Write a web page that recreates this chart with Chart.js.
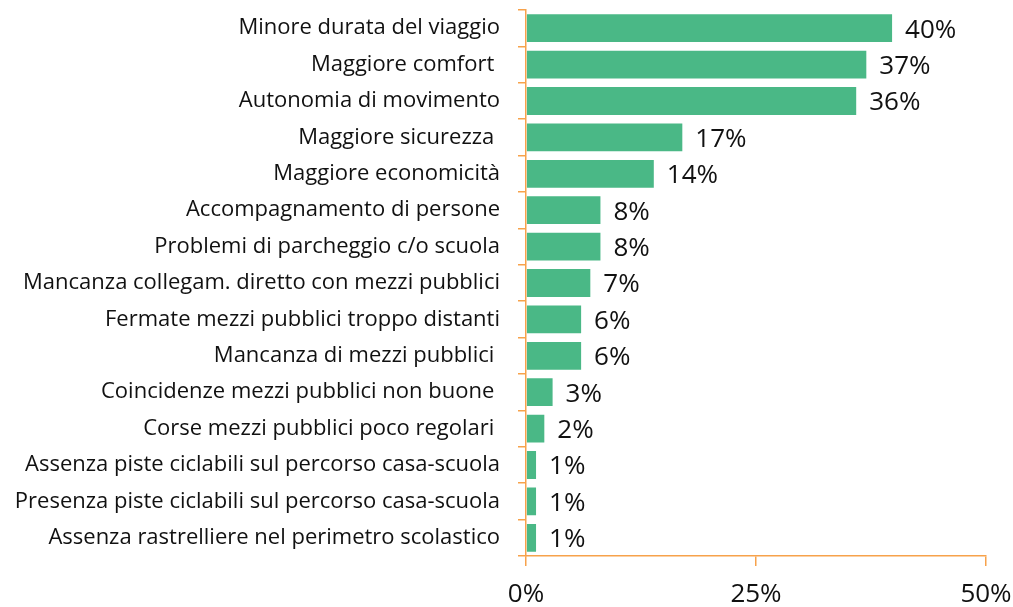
<!DOCTYPE html>
<html>
<head>
<meta charset="utf-8">
<script src="https://cdn.jsdelivr.net/npm/chart.js@4/dist/chart.umd.min.js"></script>
<style>
  html, body { margin: 0; padding: 0; background: #fff; }
  #wrap { width: 1013px; height: 607px; position: relative; }
</style>
</head>
<body>
<div id="wrap"><canvas id="chart"></canvas></div>
<script>
// categories (top to bottom) and their shares in %
const categories = [
  "Minore durata del viaggio",
  "Maggiore comfort ",
  "Autonomia di movimento",
  "Maggiore sicurezza ",
  "Maggiore economicità",
  "Accompagnamento di persone",
  "Problemi di parcheggio c/o scuola",
  "Mancanza collegam. diretto con mezzi pubblici",
  "Fermate mezzi pubblici troppo distanti",
  "Mancanza di mezzi pubblici ",
  "Coincidenze mezzi pubblici non buone ",
  "Corse mezzi pubblici poco regolari ",
  "Assenza piste ciclabili sul percorso casa-scuola",
  "Presenza piste ciclabili sul percorso casa-scuola",
  "Assenza rastrelliere nel perimetro scolastico"
];
const shares = [39.9, 37.1, 36.0, 17.1, 14.0, 8.2, 8.2, 7.1, 6.1, 6.1, 3.0, 2.1, 1.2, 1.2, 1.2];
const xTicks = [0, 25, 50];

const GREEN = "#4ab886";
const ORANGE = "#f7a24b";
const FONT = "'Open Sans', sans-serif";

// draws the value label to the right of each bar
const valueLabels = {
  id: "valueLabels",
  afterDatasetsDraw(chart) {
    const ctx = chart.ctx;
    const meta = chart.getDatasetMeta(0);
    ctx.save();
    ctx.font = "26px " + FONT;
    ctx.fillStyle = "#111";
    ctx.textAlign = "left";
    ctx.textBaseline = "middle";
    meta.data.forEach((bar, i) => {
      ctx.fillText(Math.round(shares[i]) + "%", bar.x + 12, bar.y + 2);
    });
    ctx.restore();
  }
};

new Chart(document.getElementById("chart"), {
  type: "bar",
  data: {
    labels: categories,
    datasets: [{
      data: shares,
      backgroundColor: GREEN,
      borderColor: "rgba(255,255,255,0.6)",
      borderWidth: 1,
      categoryPercentage: 1,
      barPercentage: 0.82
    }]
  },
  options: {
    indexAxis: "y",
    responsive: true,
    maintainAspectRatio: false,
    animation: false,
    layout: { padding: { top: 10, right: 27, left: 0, bottom: 0 } },
    plugins: { legend: { display: false }, tooltip: { enabled: false } },
    scales: {
      x: {
        min: 0,
        max: 50,
        afterBuildTicks: (s) => { s.ticks = xTicks.map(v => ({ value: v })); },
        afterFit: (s) => { s.height = 51; s.paddingLeft = 0; s.paddingRight = 0; },
        grid: { drawOnChartArea: false, color: ORANGE, tickLength: 10, lineWidth: 1.5 },
        border: { color: ORANGE, width: 1.5 },
        ticks: {
          padding: 13,
          color: "#111",
          maxRotation: 0,
          font: { family: FONT, size: 26 },
          callback: (v) => v + "%"
        }
      },
      y: {
        afterFit: (s) => { s.width = 526; s.paddingTop = 0; s.paddingBottom = 0; },
        grid: { drawOnChartArea: false, offset: true, color: ORANGE, tickLength: 8, lineWidth: 1.5 },
        border: { color: ORANGE, width: 1.5 },
        ticks: {
          padding: 18,
          color: "#111",
          autoSkip: false,
          font: { family: FONT, size: 22 }
        }
      }
    }
  },
  plugins: [valueLabels]
});
</script>
</body>
</html>
